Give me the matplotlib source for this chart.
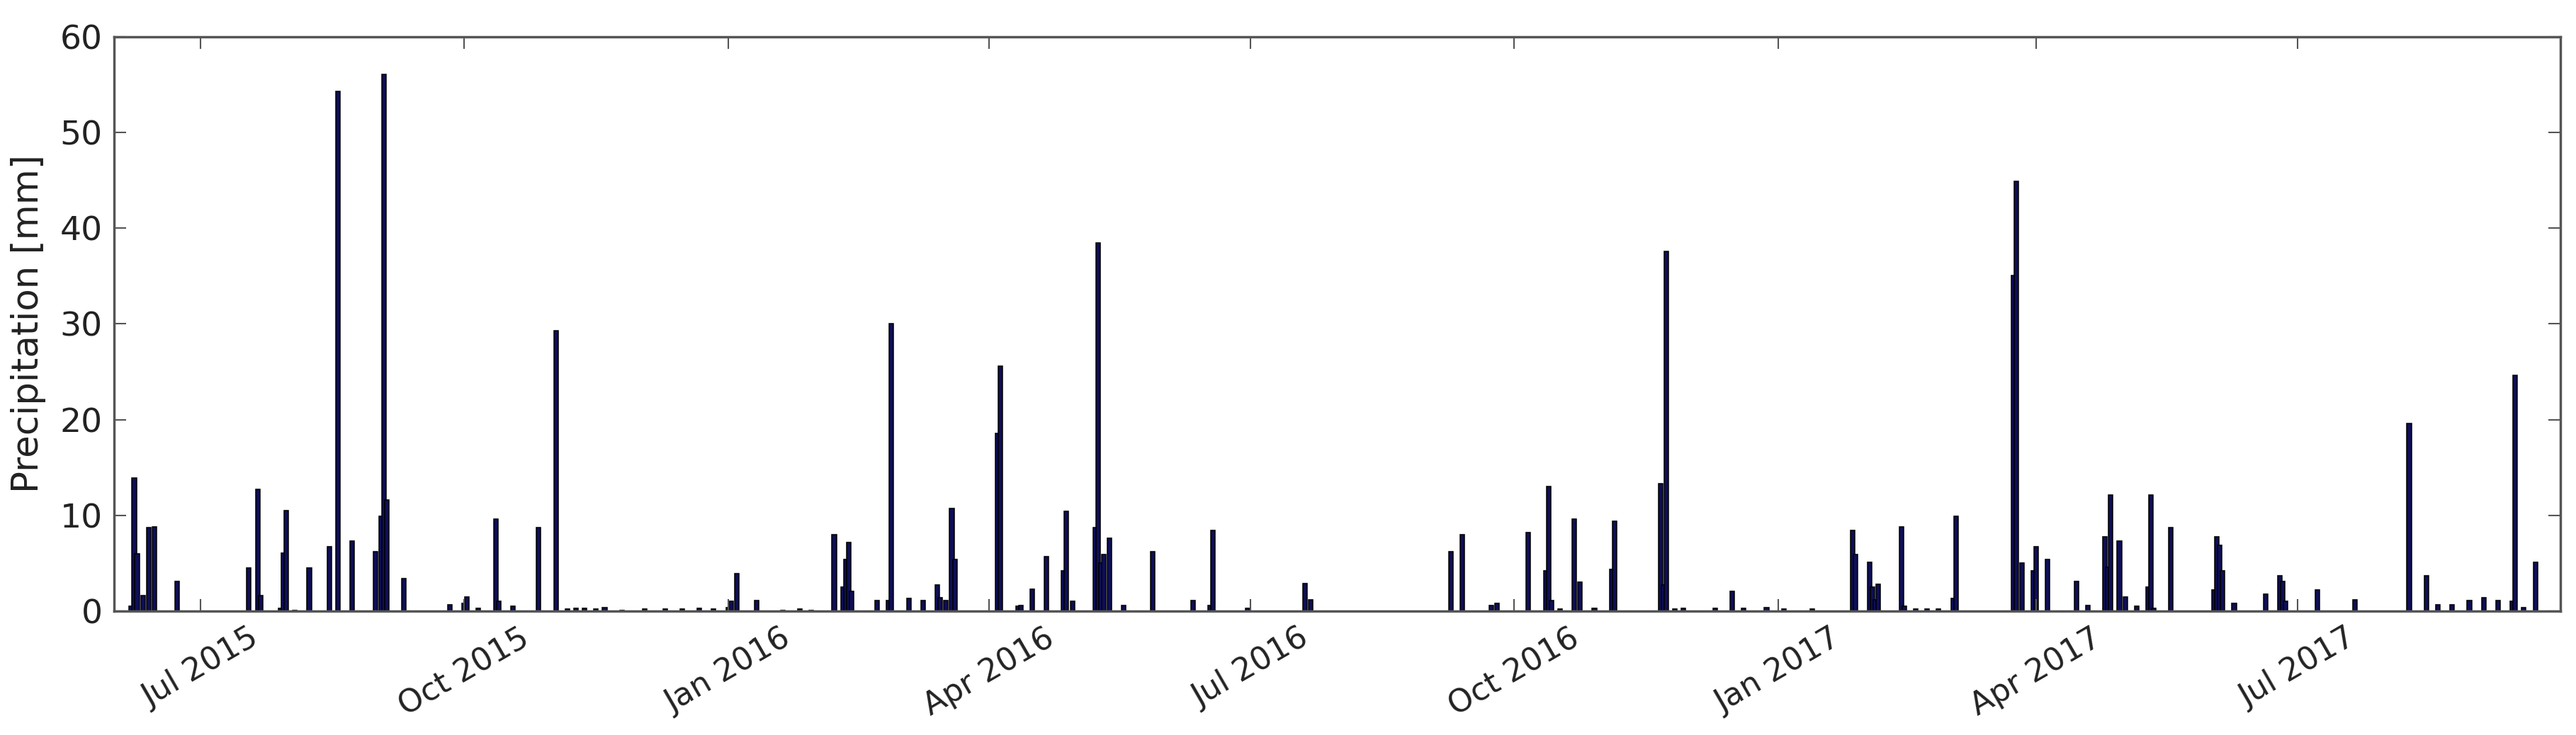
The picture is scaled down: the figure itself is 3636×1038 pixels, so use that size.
import matplotlib
matplotlib.use("Agg")
import matplotlib.pyplot as plt
import matplotlib.dates as mdates
import pandas as pd

# ---- data (daily precipitation, mm) ----
dates_2015 = ["2015-06-07", "2015-06-08", "2015-06-09", "2015-06-11", "2015-06-13", "2015-06-15",
              "2015-06-23", "2015-07-18", "2015-07-21", "2015-07-22", "2015-07-29", "2015-07-30",
              "2015-07-31", "2015-08-03", "2015-08-08", "2015-08-15", "2015-08-18", "2015-08-23",
              "2015-08-31", "2015-09-02", "2015-09-03", "2015-09-04", "2015-09-10", "2015-09-26",
              "2015-10-01", "2015-10-02", "2015-10-06", "2015-10-12", "2015-10-13", "2015-10-18",
              "2015-10-27", "2015-11-02", "2015-11-06", "2015-11-09", "2015-11-12", "2015-11-16",
              "2015-11-19", "2015-11-25", "2015-12-03", "2015-12-10", "2015-12-16", "2015-12-22",
              "2015-12-27"]
precip_2015 = [0.5, 13.9, 6.0, 1.6, 8.7, 8.8,
               3.1, 4.5, 12.7, 1.6, 0.3, 6.1,
               10.5, 0.1, 4.5, 6.7, 54.3, 7.3,
               6.2, 9.9, 56.1, 11.6, 3.4, 0.7,
               0.8, 1.5, 0.3, 9.6, 1.0, 0.5,
               8.7, 29.3, 0.2, 0.3, 0.3, 0.2,
               0.4, 0.1, 0.2, 0.2, 0.2, 0.3,
               0.2]

dates_2016 = ["2016-01-01", "2016-01-02", "2016-01-04", "2016-01-11", "2016-01-20", "2016-01-26",
              "2016-01-30", "2016-02-07", "2016-02-10", "2016-02-11", "2016-02-12", "2016-02-13",
              "2016-02-22", "2016-02-26", "2016-02-27", "2016-03-04", "2016-03-09", "2016-03-14",
              "2016-03-15", "2016-03-17", "2016-03-19", "2016-03-20", "2016-04-04", "2016-04-05",
              "2016-04-11", "2016-04-12", "2016-04-16", "2016-04-21", "2016-04-27", "2016-04-28",
              "2016-04-30", "2016-05-08", "2016-05-09", "2016-05-10", "2016-05-11", "2016-05-13",
              "2016-05-18", "2016-05-28", "2016-06-11", "2016-06-17", "2016-06-18", "2016-06-30",
              "2016-07-20", "2016-07-22", "2016-09-09", "2016-09-13", "2016-09-23", "2016-09-25",
              "2016-10-06", "2016-10-12", "2016-10-13", "2016-10-14", "2016-10-17", "2016-10-22",
              "2016-10-24", "2016-10-29", "2016-11-04", "2016-11-05", "2016-11-21", "2016-11-22",
              "2016-11-23", "2016-11-26", "2016-11-29", "2016-12-10", "2016-12-16", "2016-12-20",
              "2016-12-28"]
precip_2016 = [0.4, 1.0, 3.9, 1.1, 0.1, 0.2,
               0.1, 8.0, 2.5, 5.4, 7.2, 2.1,
               1.1, 1.1, 30.0, 1.3, 1.1, 2.7,
               1.4, 1.1, 10.7, 5.4, 18.6, 25.6,
               0.5, 0.6, 2.3, 5.7, 4.2, 10.4,
               1.0, 8.7, 38.5, 5.0, 5.9, 7.6,
               0.6, 6.2, 1.1, 0.6, 8.4, 0.3,
               2.9, 1.2, 6.2, 8.0, 0.6, 0.8,
               8.2, 4.2, 13.0, 1.1, 0.2, 9.6,
               3.0, 0.3, 4.4, 9.4, 13.3, 2.7,
               37.6, 0.2, 0.3, 0.3, 2.1, 0.3,
               0.4]

dates_2017 = ["2017-01-03", "2017-01-13", "2017-01-27", "2017-01-28", "2017-02-02", "2017-02-03",
              "2017-02-04", "2017-02-05", "2017-02-13", "2017-02-14", "2017-02-18", "2017-02-22",
              "2017-02-26", "2017-03-03", "2017-03-04", "2017-03-24", "2017-03-25", "2017-03-27",
              "2017-03-31", "2017-04-01", "2017-04-05", "2017-04-15", "2017-04-19", "2017-04-25",
              "2017-04-26", "2017-04-27", "2017-04-30", "2017-05-02", "2017-05-06", "2017-05-10",
              "2017-05-11", "2017-05-12", "2017-05-18", "2017-06-02", "2017-06-03", "2017-06-04",
              "2017-06-05", "2017-06-09", "2017-06-20", "2017-06-25", "2017-06-26", "2017-06-27",
              "2017-07-08", "2017-07-21", "2017-08-09", "2017-08-15", "2017-08-19", "2017-08-24",
              "2017-08-30", "2017-09-04", "2017-09-09", "2017-09-14", "2017-09-15", "2017-09-18",
              "2017-09-22"]
precip_2017 = [0.2, 0.2, 8.4, 5.9, 5.1, 2.5,
               1.2, 2.8, 8.8, 0.5, 0.2, 0.2,
               0.2, 1.3, 9.9, 35.1, 44.9, 5.0,
               4.2, 6.7, 5.4, 3.1, 0.6, 7.8,
               4.6, 12.1, 7.3, 1.5, 0.5, 2.5,
               12.1, 0.3, 8.7, 2.2, 7.8, 6.9,
               4.2, 0.8, 1.8, 3.7, 3.1, 1.0,
               2.2, 1.2, 19.6, 3.7, 0.7, 0.7,
               1.1, 1.4, 1.1, 1.0, 24.6, 0.4,
               5.1]

y_ticks = [0, 10, 20, 30, 40, 50, 60]
y_label = "Precipitation [mm]"

dates = pd.to_datetime(dates_2015 + dates_2016 + dates_2017)
precip = precip_2015 + precip_2016 + precip_2017

# ---- figure ----
plt.rcParams['font.family'] = ['DejaVu Sans']
fig = plt.figure(figsize=(36.37, 10.38), dpi=100)
ax = fig.add_axes([0.0443, 0.1686, 0.9494, 0.7814])

ax.bar(dates, precip, width=1.5, color="#0e0e58", edgecolor="black", linewidth=1.1, align="center")

ax.set_xlim(pd.Timestamp("2015-06-01"), pd.Timestamp("2017-09-30 18:00"))
ax.set_ylim(0, 60)
ax.set_yticks(y_ticks)
ax.set_ylabel(y_label, fontsize=37, color="#222222", labelpad=14)

ax.xaxis.set_major_locator(mdates.MonthLocator(bymonth=[1, 4, 7, 10]))
ax.xaxis.set_major_formatter(mdates.DateFormatter("%b %Y"))

ax.tick_params(axis="both", which="major", direction="in", length=12, width=1.5,
               colors="#555555", labelcolor="#222222",
               top=True, right=True, pad=12)
ax.tick_params(axis="y", labelsize=34)
ax.tick_params(axis="x", labelsize=32)
for lab in ax.get_xticklabels():
    lab.set_rotation(30)
    lab.set_ha("center")

for sp in ax.spines.values():
    sp.set_color("#555555")
    sp.set_linewidth(2.5)

fig.savefig("out.png", dpi=100, facecolor="white")
